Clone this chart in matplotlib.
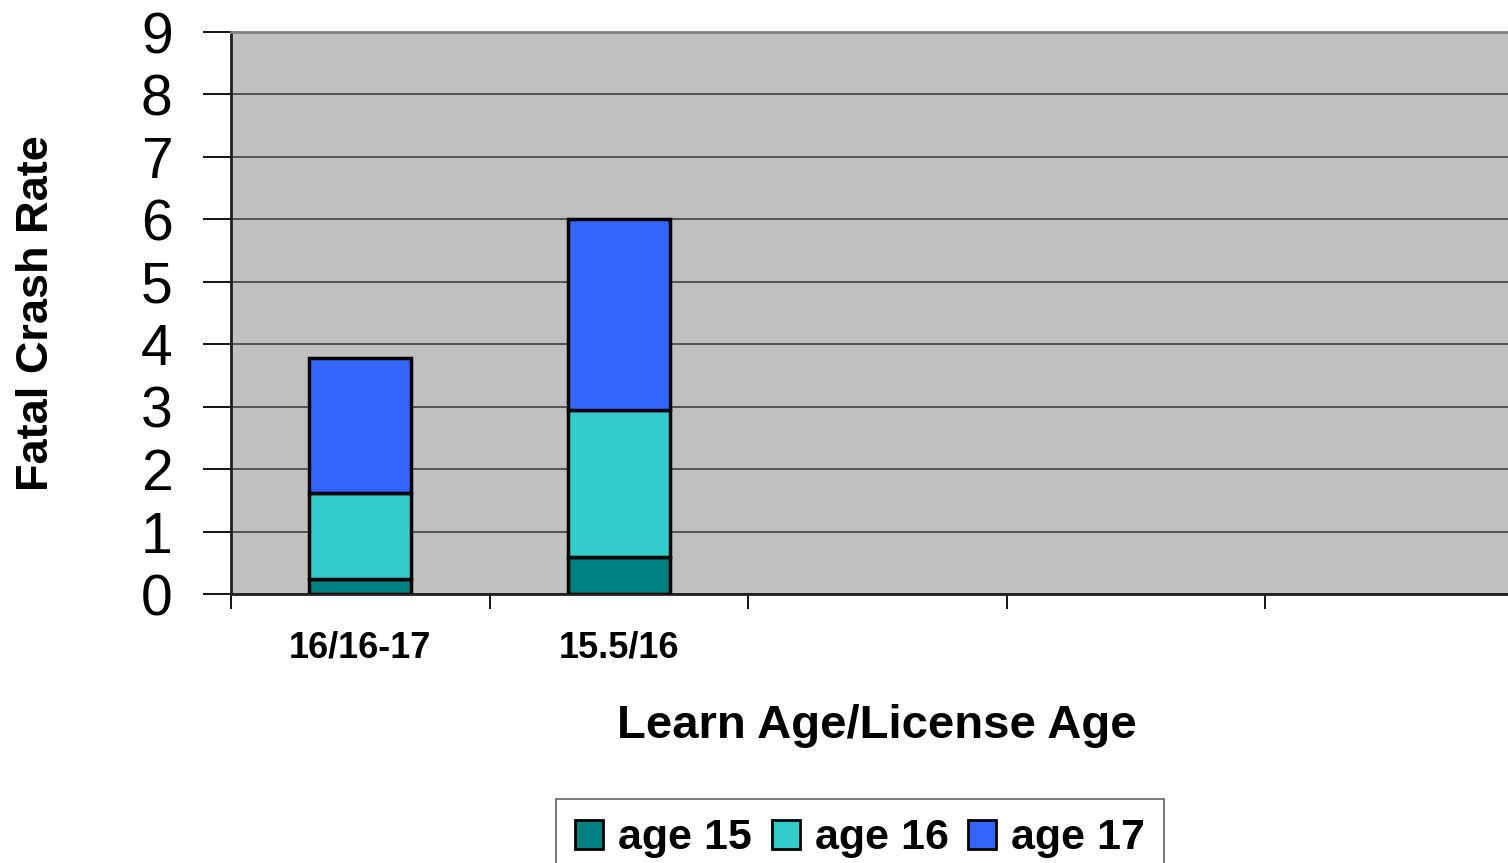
import numpy as np
import matplotlib.pyplot as plt
from matplotlib.patches import Patch

plt.rcParams['font.family'] = ['Liberation Sans', 'DejaVu Sans']

# data
categories = ['16/16-17', '15.5/16', '', '', '']
age15 = [0.24, 0.60, 0, 0, 0]
age16 = [1.38, 2.35, 0, 0, 0]
age17 = [2.16, 3.05, 0, 0, 0]
series_names = ['age 15', 'age 16', 'age 17']
colors = ['#008080', '#33CCCC', '#3366FF']

W, H = 1508, 863
fig = plt.figure(figsize=(W / 100, H / 100), dpi=100)
# plot area runs past the right edge of the picture, like the original
ax = fig.add_axes([231 / W, 1 - 594 / H, 1292.5 / W, 562 / H])
ax.set_facecolor('#C0C0C0')

x = np.arange(len(categories)) + 0.5
n_bars = 2
bottom = np.zeros(n_bars)
for vals, name, c in zip([age15, age16, age17], series_names, colors):
    v = np.array(vals[:n_bars])
    ax.bar(x[:n_bars], v, width=0.395, bottom=bottom, color=c,
           edgecolor='black', linewidth=2.5, zorder=3)
    bottom += v

ax.set_xlim(0, len(categories))
ax.set_ylim(0, 9)
ax.set_yticks(range(0, 10))
ax.yaxis.grid(True, color='#404040', linewidth=1.2, zorder=1)
ax.set_axisbelow(True)
ax.tick_params(axis='y', labelsize=41, length=20, width=1.3, pad=22, direction='out')

# category boundaries carry the ticks, labels sit in the middle
ax.set_xticks(range(0, len(categories) + 1))
ax.set_xticklabels([])
ax.tick_params(axis='x', length=11, width=1.3, direction='out')
for xi, lab in zip(x, categories):
    ax.text(xi, -0.87, lab, ha='center', va='center', fontsize=26,
            fontweight='bold')

for s in ['left', 'bottom']:
    ax.spines[s].set_linewidth(2)
    ax.spines[s].set_color('#202020')
ax.spines['top'].set_color('#808080')
ax.spines['top'].set_linewidth(2)
ax.spines['right'].set_visible(False)

ax.set_xlabel('Learn Age/License Age', fontsize=34, fontweight='bold',
              labelpad=0)
ax.xaxis.set_label_coords(0.5, -0.196)
ax.set_ylabel('Fatal Crash Rate', fontsize=32.5, fontweight='bold')
ax.yaxis.set_label_coords(-0.1346, 0.5)

handles = [Patch(facecolor=c, edgecolor='black', linewidth=2) for c in colors]
leg = fig.legend(handles, series_names, loc='upper left',
                 bbox_to_anchor=(556 / W, 1 - 799 / H), ncol=3,
                 prop={'size': 31, 'weight': 'bold'},
                 handlelength=0.65, handleheight=0.65, handletextpad=0.35,
                 columnspacing=0.45, borderpad=0.45, borderaxespad=0,
                 fancybox=False, edgecolor='#606060', framealpha=1)
leg.get_frame().set_linewidth(1.2)

fig.savefig('out.png', dpi=100)
